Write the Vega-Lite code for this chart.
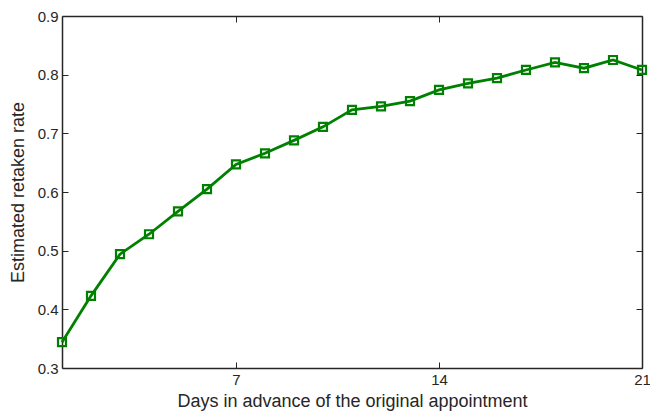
{
  "$schema": "https://vega.github.io/schema/vega-lite/v6.json",
  "width": 580,
  "height": 352,
  "autosize": {"type": "none"},
  "padding": {"left": 62, "top": 16, "right": 8, "bottom": 44},
  "background": "white",
  "config": {
    "font": "Liberation Sans",
    "view": {"stroke": null}
  },
  "data": {
    "values": [
      {"day": 1, "rate": 0.344},
      {"day": 2, "rate": 0.423},
      {"day": 3, "rate": 0.494},
      {"day": 4, "rate": 0.528},
      {"day": 5, "rate": 0.567},
      {"day": 6, "rate": 0.605},
      {"day": 7, "rate": 0.647},
      {"day": 8, "rate": 0.666},
      {"day": 9, "rate": 0.688},
      {"day": 10, "rate": 0.711},
      {"day": 11, "rate": 0.740},
      {"day": 12, "rate": 0.746},
      {"day": 13, "rate": 0.755},
      {"day": 14, "rate": 0.774},
      {"day": 15, "rate": 0.785},
      {"day": 16, "rate": 0.794},
      {"day": 17, "rate": 0.808},
      {"day": 18, "rate": 0.821},
      {"day": 19, "rate": 0.811},
      {"day": 20, "rate": 0.825},
      {"day": 21, "rate": 0.808}
    ]
  },
  "layer": [
    {
      "mark": {"type": "line", "color": "#008000", "strokeWidth": 2.8},
      "encoding": {
        "x": {"field": "day", "type": "quantitative", "scale": {"domain": [1, 21], "nice": false, "zero": false},
              "axis": {"orient": "bottom", "values": [7, 14, 21], "title": "Days in advance of the original appointment",
                       "labelPadding": 10, "titlePadding": 5, "labelFlush": false, "labelFontSize": 15, "titleFontSize": 18,
                       "titleFontWeight": "normal", "grid": false, "tickSize": -6, "domainWidth": 1.5,
                       "domainColor": "#262626", "tickColor": "#262626", "labelColor": "#262626", "titleColor": "#262626",
                       "labelFont": "Liberation Sans", "titleFont": "Liberation Sans"}},
        "y": {"field": "rate", "type": "quantitative", "scale": {"domain": [0.3, 0.9], "nice": false, "zero": false},
              "axis": {"orient": "left", "values": [0.3, 0.4, 0.5, 0.6, 0.7, 0.8, 0.9], "format": ".1f", "title": "Estimated retaken rate",
                       "labelPadding": 10, "titlePadding": 10, "labelFlush": false, "labelFontSize": 15, "titleFontSize": 18,
                       "titleFontWeight": "normal", "grid": false, "tickSize": -6, "domainWidth": 1.5,
                       "domainColor": "#262626", "tickColor": "#262626", "labelColor": "#262626", "titleColor": "#262626",
                       "labelFont": "Liberation Sans", "titleFont": "Liberation Sans"}}
      }
    },
    {
      "mark": {"type": "point", "shape": "square", "filled": false, "color": "#008000", "strokeWidth": 2.2, "size": 64, "opacity": 1},
      "encoding": {
        "x": {"field": "day", "type": "quantitative",
              "axis": {"orient": "top", "values": [7, 14, 21], "labels": false, "title": null, "grid": false, "tickSize": -6,
                       "domainWidth": 1.5, "domainColor": "#262626", "tickColor": "#262626"}},
        "y": {"field": "rate", "type": "quantitative",
              "axis": {"orient": "right", "values": [0.3, 0.4, 0.5, 0.6, 0.7, 0.8, 0.9], "labels": false, "title": null, "grid": false, "tickSize": -6,
                       "domainWidth": 1.5, "domainColor": "#262626", "tickColor": "#262626"}}
      }
    }
  ],
  "resolve": {"axis": {"x": "independent", "y": "independent"}}
}
